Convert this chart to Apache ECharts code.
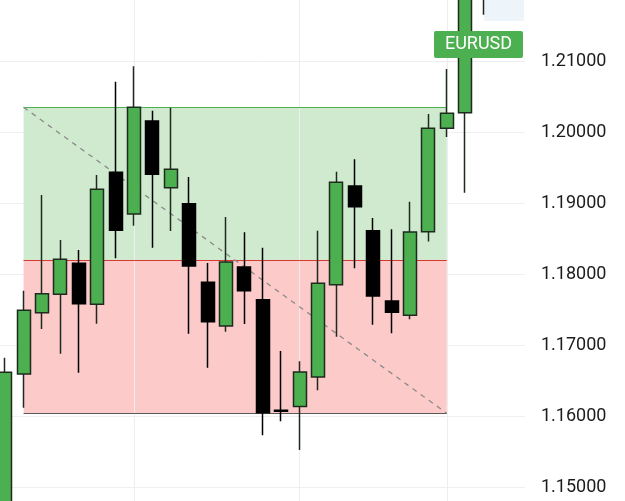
<!DOCTYPE html>
<html>
<head>
<meta charset="utf-8">
<script src="https://cdn.jsdelivr.net/npm/echarts@6/dist/echarts.min.js"></script>
<style>
html,body{margin:0;padding:0;background:#fff;}
#chart{width:625px;height:501px;}
</style>
</head>
<body>
<div id="chart"></div>
<script>
// ---- data ----
var categories = ['B01','B02','B03','B04','B05','B06','B07','B08','B09','B10','B11','B12','B13','B14','B15','B16','B17','B18','B19','B20','B21','B22','B23','B24','B25','B26','B27'];
var openPrices  = [1.14535,1.16592,1.17455,1.17714,1.18151,1.17573,1.19432,1.18845,1.20155,1.19216,1.18990,1.17883,1.17268,1.18099,1.17638,1.16080,1.16134,1.16549,1.17849,1.19239,1.18610,1.17620,1.17418,1.18596,1.20052,1.20272,1.22000];
var closePrices = [1.16616,1.17489,1.17723,1.18207,1.17582,1.19193,1.18616,1.20348,1.19404,1.19475,1.18113,1.17328,1.18169,1.17765,1.16046,1.16066,1.16620,1.17869,1.19292,1.18948,1.17690,1.17461,1.18592,1.20052,1.20263,1.22141,1.22300];
var lowPrices   = [1.14394,1.16117,1.17225,1.16877,1.16610,1.17300,1.18221,1.18680,1.18370,1.18606,1.17159,1.16680,1.17187,1.17296,1.15728,1.15925,1.15521,1.16363,1.17117,1.18080,1.17286,1.17165,1.17362,1.18458,1.19930,1.19145,1.21652];
var highPrices  = [1.16821,1.17765,1.19113,1.18479,1.18338,1.19394,1.20708,1.20925,1.20300,1.20342,1.19366,1.18155,1.18803,1.18587,1.18370,1.16916,1.16772,1.18610,1.19441,1.19615,1.18789,1.18630,1.19018,1.20254,1.20887,1.22282,1.22400];
var yTickValues = [1.15,1.16,1.17,1.18,1.19,1.20,1.21];
// position tool (target / entry / stop) and time grid
var boxStart = 'B02', boxEnd = 'B25';
var targetPrice = 1.20348, entryPrice = 1.18197, stopPrice = 1.16038;
var timeGridCats = ['B08','B17','B25'];
var symbolName = 'EURUSD';

var candleData = categories.map(function(c,i){
  return [openPrices[i], closePrices[i], lowPrices[i], highPrices[i]];
});

var chart = echarts.init(document.getElementById('chart'), null, {renderer:'canvas'});
var yMin = 1.14, yMax = 1.22, step = 0.01;
var option = {
  animation: false,
  backgroundColor: '#ffffff',
  grid: [
    {left: -4, width: 496.8, top: -10, height: 568, outerBoundsMode:'none', containLabel:false},
    {left: 0, width: 525, top: -10, height: 568, outerBoundsMode:'none', containLabel:false}
  ],
  xAxis: [
    {gridIndex:0, type:'category', data: categories, boundaryGap:true,
     axisLine:{show:false}, axisTick:{show:false}, axisLabel:{show:false}, splitLine:{show:false}},
    {gridIndex:1, type:'value', min:0, max:1, show:false}
  ],
  yAxis: [
    {gridIndex:0, type:'value', min:yMin, max:yMax, interval:step, show:false, splitLine:{show:false}},
    {gridIndex:1, type:'value', min:yMin, max:yMax, interval:step, position:'right',
     axisLine:{show:false}, axisTick:{show:false},
     splitLine:{show:true, lineStyle:{color:'#efefef', width:1}},
     axisLabel:{show:true, margin:16, color:'#1c1c1c', fontFamily:'Roboto', fontSize:18,
       formatter:function(v){ return yTickValues.some(function(t){return Math.abs(t-v)<1e-9;}) ? v.toFixed(5) : ''; }}}
  ],
  series: [
    {
      type:'line', xAxisIndex:0, yAxisIndex:0, data:[], z:1, silent:true,
      markArea: {
        silent:true,
        data: [
          [{xAxis:boxStart, yAxis:targetPrice, itemStyle:{color:'#cfeacf'}}, {xAxis:boxEnd, yAxis:entryPrice}],
          [{xAxis:boxStart, yAxis:entryPrice, itemStyle:{color:'#fdcaca'}}, {xAxis:boxEnd, yAxis:stopPrice}]
        ]
      },
      markLine: {
        silent:true, symbol:['none','none'], label:{show:false},
        data: [
          {xAxis: timeGridCats[0], lineStyle:{color:'#eeeeee', width:1, type:'solid'}},
          {xAxis: timeGridCats[1], lineStyle:{color:'#eeeeee', width:1, type:'solid'}},
          {xAxis: timeGridCats[2], lineStyle:{color:'#eeeeee', width:1, type:'solid'}},
          [{coord:[boxStart, targetPrice], lineStyle:{color:'#4caf50', width:1.2, type:'solid'}}, {coord:[boxEnd, targetPrice]}],
          [{coord:[boxStart, entryPrice], lineStyle:{color:'#d83a32', width:1.2, type:'solid'}}, {coord:[boxEnd, entryPrice]}],
          [{coord:[boxStart, stopPrice], lineStyle:{color:'#5a5a5a', width:1.2, type:'solid'}}, {coord:[boxEnd, stopPrice]}],
          [{coord:[boxStart, targetPrice], lineStyle:{color:'#8a8a8a', width:1.3, type:[5,5]}}, {coord:[boxEnd, stopPrice]}]
        ]
      }
    },
    {
      type:'candlestick', xAxisIndex:0, yAxisIndex:0, z:5, data: candleData,
      barWidth: 13.4,
      itemStyle:{color:'#4caf50', color0:'#000000', borderColor:'#1e2a1e', borderColor0:'#000000', borderWidth:1.5}
    }
  ],
  graphic: [
    {type:'rect', z:0, shape:{x:484, y:0, width:40, height:21}, style:{fill:'#edf5fb'}},
    {type:'rect', z:100, shape:{x:434, y:31, width:89, height:27, r:2}, style:{fill:'#4caf50'}},
    {type:'text', z:101, style:{x:478.5, y:44.8, text:symbolName, fill:'#ffffff', font:'18px Roboto', textAlign:'center', textVerticalAlign:'middle'}}
  ]
};
chart.setOption(option);
</script>
</body>
</html>
